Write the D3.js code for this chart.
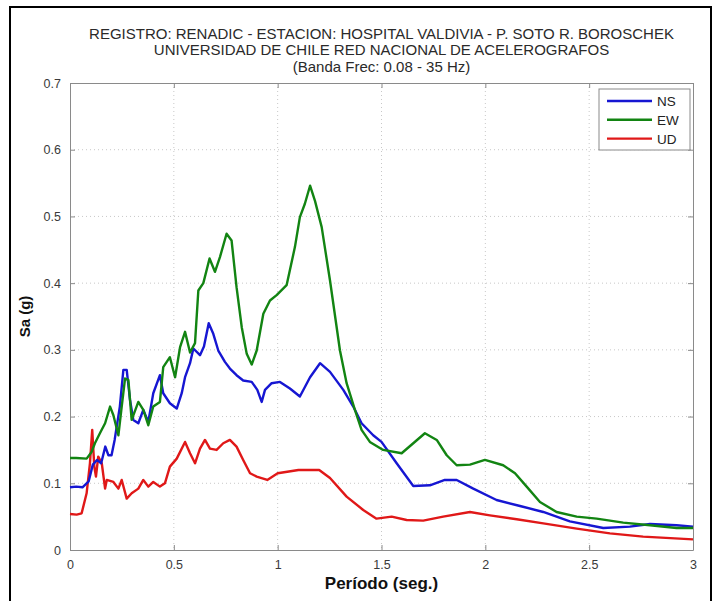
<!DOCTYPE html>
<html>
<head>
<meta charset="utf-8">
<script src="https://cdn.jsdelivr.net/npm/d3@7"></script>
<style>
  html, body { margin: 0; padding: 0; background: #fff; }
  svg { display: block; font-family: "Liberation Sans", Arial, Helvetica, sans-serif; }
</style>
</head>
<body>
<svg id="chart" width="713" height="601"></svg>
<script>
// Response spectra, Hospital Valdivia station (period in s, Sa in g)
const periodNS = [0.00,0.03,0.06,0.09,0.11,0.13,0.15,0.17,0.185,0.20,0.215,0.24,0.257,0.273,0.289,0.305,0.329,0.353,0.377,0.401,0.433,0.449,0.481,0.514,0.538,0.554,0.578,0.594,0.626,0.645,0.668,0.69,0.714,0.746,0.77,0.802,0.834,0.875,0.902,0.923,0.939,0.971,1.011,1.059,1.107,1.156,1.204,1.252,1.316,1.364,1.404,1.46,1.50,1.573,1.653,1.733,1.805,1.862,1.942,2.054,2.167,2.279,2.407,2.568,2.696,2.793,2.921,3.0];
const saNS = [0.094,0.095,0.094,0.103,0.128,0.135,0.130,0.155,0.142,0.142,0.165,0.215,0.270,0.270,0.225,0.195,0.190,0.210,0.192,0.235,0.262,0.235,0.220,0.212,0.235,0.259,0.280,0.302,0.292,0.305,0.340,0.324,0.299,0.282,0.272,0.262,0.254,0.252,0.240,0.222,0.240,0.250,0.252,0.242,0.230,0.259,0.280,0.267,0.240,0.215,0.190,0.172,0.162,0.130,0.096,0.097,0.105,0.105,0.092,0.075,0.066,0.057,0.043,0.033,0.035,0.039,0.037,0.035];

const periodEW = [0.00,0.03,0.08,0.104,0.12,0.144,0.169,0.193,0.209,0.233,0.249,0.265,0.281,0.297,0.329,0.353,0.377,0.401,0.433,0.449,0.481,0.506,0.53,0.554,0.578,0.602,0.618,0.642,0.672,0.698,0.722,0.754,0.778,0.802,0.827,0.851,0.875,0.899,0.931,0.963,0.995,1.043,1.083,1.107,1.131,1.156,1.18,1.212,1.252,1.30,1.332,1.372,1.404,1.444,1.508,1.597,1.653,1.709,1.766,1.814,1.862,1.926,1.998,2.086,2.143,2.199,2.263,2.343,2.44,2.536,2.664,2.793,2.921,3.0];
const saEW = [0.138,0.138,0.137,0.147,0.160,0.175,0.190,0.215,0.202,0.172,0.215,0.257,0.255,0.195,0.222,0.210,0.187,0.215,0.222,0.274,0.289,0.259,0.304,0.327,0.296,0.310,0.389,0.400,0.437,0.417,0.439,0.474,0.464,0.394,0.334,0.294,0.278,0.299,0.354,0.374,0.382,0.397,0.454,0.499,0.519,0.546,0.523,0.484,0.404,0.299,0.250,0.210,0.180,0.162,0.150,0.145,0.160,0.175,0.165,0.142,0.127,0.128,0.135,0.127,0.115,0.095,0.072,0.057,0.050,0.047,0.041,0.037,0.033,0.033];

const periodUD = [0.00,0.032,0.056,0.08,0.096,0.107,0.117,0.125,0.136,0.153,0.169,0.177,0.209,0.233,0.249,0.273,0.297,0.329,0.353,0.377,0.401,0.433,0.457,0.481,0.514,0.554,0.578,0.602,0.626,0.65,0.674,0.706,0.738,0.77,0.802,0.834,0.867,0.899,0.95,1.0,1.1,1.2,1.252,1.332,1.412,1.476,1.549,1.621,1.701,1.797,1.926,2.022,2.151,2.279,2.44,2.6,2.76,3.0];
const saUD = [0.054,0.053,0.055,0.085,0.130,0.180,0.125,0.110,0.140,0.130,0.092,0.105,0.102,0.092,0.105,0.077,0.085,0.092,0.105,0.095,0.102,0.095,0.100,0.125,0.137,0.162,0.145,0.130,0.152,0.165,0.152,0.150,0.160,0.165,0.155,0.135,0.115,0.110,0.105,0.115,0.120,0.120,0.108,0.080,0.060,0.047,0.050,0.045,0.044,0.050,0.057,0.052,0.046,0.040,0.032,0.025,0.020,0.016];

const xTicks = [0, 0.5, 1, 1.5, 2, 2.5, 3];
const yTicks = [0, 0.1, 0.2, 0.3, 0.4, 0.5, 0.6, 0.7];
const seriesNames = ["NS", "EW", "UD"];
const seriesColors = ["#1616d2", "#128412", "#e01818"];
const titleLines = [
  "REGISTRO: RENADIC - ESTACION: HOSPITAL VALDIVIA - P. SOTO R. BOROSCHEK",
  "UNIVERSIDAD DE CHILE RED NACIONAL DE ACELEROGRAFOS",
  "(Banda Frec: 0.08 - 35 Hz)"
];

const svg = d3.select("#chart");
const m = { left: 70, top: 83, right: 693, bottom: 550 };
const x = d3.scaleLinear().domain([0, 3]).range([m.left, m.right]);
const y = d3.scaleLinear().domain([0, 0.7]).range([m.bottom, m.top]);

// outer frame
svg.append("path")
  .attr("d", `M10,601 L10,7 L711,7 L711,601`)
  .attr("fill", "none").attr("stroke", "#000").attr("stroke-width", 2);

// grid
const grid = svg.append("g");
grid.selectAll(".gx").data(xTicks.slice(1, -1)).join("line")
  .attr("x1", d => x(d)).attr("x2", d => x(d))
  .attr("y1", m.top).attr("y2", m.bottom)
  .attr("stroke", "#c8c8c8").attr("stroke-width", 1).attr("stroke-dasharray", "1,3");
grid.selectAll(".gy").data(yTicks.slice(1, -1)).join("line")
  .attr("y1", d => y(d)).attr("y2", d => y(d))
  .attr("x1", m.left).attr("x2", m.right)
  .attr("stroke", "#c8c8c8").attr("stroke-width", 1).attr("stroke-dasharray", "1,3");

// axes (ticks pointing inward, labels outside)
const axisColor = "#8a8a8a";
const xAxis = svg.append("g").attr("transform", `translate(0,${m.bottom})`)
  .call(d3.axisBottom(x).tickValues(xTicks).tickFormat(d3.format("")).tickSizeInner(-5).tickSizeOuter(0).tickPadding(10));
const yAxis = svg.append("g").attr("transform", `translate(${m.left},0)`)
  .call(d3.axisLeft(y).tickValues(yTicks).tickFormat(d3.format("")).tickSizeInner(-5).tickSizeOuter(0).tickPadding(9));
const xTop = svg.append("g").attr("transform", `translate(0,${m.top})`)
  .call(d3.axisTop(x).tickValues(xTicks).tickFormat("").tickSizeInner(-5).tickSizeOuter(0));
const yRight = svg.append("g").attr("transform", `translate(${m.right},0)`)
  .call(d3.axisRight(y).tickValues(yTicks).tickFormat("").tickSizeInner(-5).tickSizeOuter(0));
[xAxis, yAxis, xTop, yRight].forEach(g => {
  g.selectAll("path, line").attr("stroke", axisColor);
  g.selectAll("text").attr("fill", "#3a3a3a").style("font-size", "12.5px")
    .style("font-family", "'Liberation Sans', Arial, sans-serif");
});

// curves
const periods = [periodNS, periodEW, periodUD];
const values = [saNS, saEW, saUD];
const line = d3.line().x(d => x(d[0])).y(d => y(d[1]));
const curves = svg.append("g");
[2, 0, 1].forEach(i => {
  const pts = periods[i].map((p, k) => [p, values[i][k]]);
  curves.append("path").datum(pts)
    .attr("d", line).attr("fill", "none")
    .attr("stroke", seriesColors[i]).attr("stroke-width", 2.4)
    .attr("stroke-linejoin", "round");
});

// titles
svg.selectAll(".title").data(titleLines).join("text")
  .attr("x", (m.left + m.right) / 2)
  .attr("y", (d, i) => 38.5 + i * 16.5)
  .attr("text-anchor", "middle")
  .attr("fill", "#2a2a2a")
  .style("font-size", "15px")
  .text(d => d);

// axis labels
svg.append("text")
  .attr("x", (m.left + m.right) / 2).attr("y", 589)
  .attr("text-anchor", "middle").attr("font-weight", "bold")
  .style("font-size", "17px").attr("fill", "#111")
  .text("Período (seg.)");
svg.append("text")
  .attr("transform", `translate(30,${(m.top + m.bottom) / 2}) rotate(-90)`)
  .attr("text-anchor", "middle").attr("font-weight", "bold")
  .style("font-size", "15px").attr("fill", "#111")
  .text("Sa (g)");

// legend
const lg = svg.append("g");
lg.append("rect").attr("x", 599).attr("y", 89).attr("width", 91).attr("height", 61)
  .attr("fill", "#fff").attr("stroke", axisColor).attr("stroke-width", 1);
seriesNames.forEach((name, i) => {
  const ly = 101 + i * 18.8;
  lg.append("line").attr("x1", 607).attr("x2", 652).attr("y1", ly).attr("y2", ly)
    .attr("stroke", seriesColors[i]).attr("stroke-width", 2.4);
  lg.append("text").attr("x", 657).attr("y", ly + 5)
    .attr("fill", "#222").style("font-size", "13.5px").text(name);
});
</script>
</body>
</html>
